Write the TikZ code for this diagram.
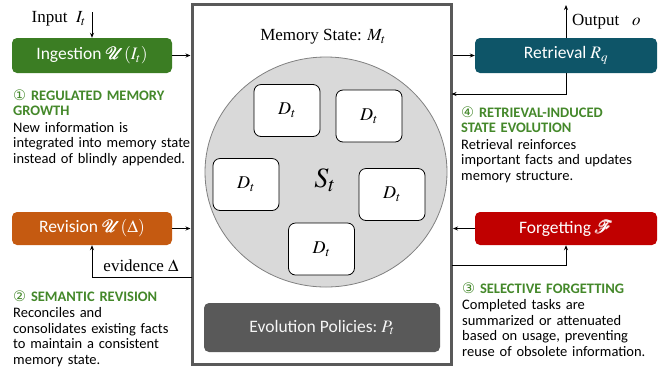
\documentclass[tikz,border=0pt]{standalone}
\usepackage{amsmath,amssymb}
\usepackage{mathptmx}
\usepackage{fontspec}
\setmainfont{Liberation Serif}
\newfontfamily\sansf{Carlito}
\newfontfamily\symf{DejaVu Sans}
\usetikzlibrary{arrows.meta,shapes.geometric}

\definecolor{ingreen}{HTML}{3B7D23}
\definecolor{revorange}{HTML}{C55A11}
\definecolor{retteal}{HTML}{0E5568}
\definecolor{forgred}{HTML}{C00000}
\definecolor{headgreen}{HTML}{44882A}
\definecolor{boxgray}{HTML}{595959}

\tikzset{
  procbox/.style={rounded corners=5pt, minimum width=160pt, minimum height=35pt,
    text=white, font=\sansf\fontsize{17.5}{20}\selectfont},
  docbox/.style={draw, line width=0.8pt, rounded corners=7pt, fill=white,
    minimum width=66pt, minimum height=52pt, font=\fontsize{18}{20}\selectfont},
  flow/.style={-{Stealth[length=5pt,width=4pt]}, line width=1pt},
  note/.style={anchor=base west, inner sep=0pt, text width=200pt, align=left,
    font=\sansf\fontsize{14.5}{15.5}\selectfont},
  lbl/.style={inner sep=0pt, font=\fontsize{17}{20}\selectfont}
}

\begin{document}
\begin{tikzpicture}[x=1pt,y=-1pt]
  \useasboundingbox (0,0) rectangle (660,368);
  % Memory state
  \node[draw=boxgray, line width=3pt, minimum width=259.5pt, minimum height=360pt] (mem) at (321.75,184.5) {};
  \node[lbl] (title) at (323,37) {Memory State: $M_t$};
  \node[ellipse, draw=gray, fill=black!15, line width=0.8pt, minimum width=242pt, minimum height=230pt] (pool) at (326,172) {};
  \node[inner sep=0pt, font=\fontsize{28}{30}\selectfont] (st) at (325,180) {$S_t$};
  \foreach \x/\y [count=\i] in {287/110.5, 369/116, 246/184.5, 392/194.5, 321.5/249}
    \node[docbox] (d\i) at (\x,\y) {$D_t$};
  \node[procbox, fill=boxgray, text=black!4, minimum width=236pt, minimum height=49pt] (pol) at (322,327.5) {Evolution Policies:~$P_t$};
  % Left side
  \node[procbox, fill=ingreen] (ing) at (92,55.5) {Ingestion $\pmb{\mathcal{U}}(I_t)$};
  \node[procbox, fill=revorange, minimum height=33pt] (rev) at (92,228.5) {Revision $\pmb{\mathcal{U}}(\Delta)$};
  \coordinate (in) at (92,12);
  \node[lbl, anchor=east] (inlbl) at (86,19) {Input\ \ $I_t$};
  \draw[flow] (in) -- (ing.north);
  \draw[flow] (ing.east) -- (ing.east -| mem.west);
  \draw[flow] (rev.east) -- (rev.east -| mem.west);
  \coordinate (evout) at (192,277);
  \draw[flow] (evout) -| (rev.south);
  \node[lbl] (evlbl) at (141,266) {evidence $\Delta$};
  % Right side
  \node[procbox, fill=retteal, minimum width=182pt] (ret) at (566,55.5) {Retrieval $R_q$};
  \node[procbox, fill=forgred, minimum width=182pt, minimum height=33pt] (forg) at (566,228.5) {Forgetting $\pmb{\mathcal{F}}$};
  \coordinate (out) at (566,5);
  \draw[flow] (ret.north) -- (out);
  \node[lbl, anchor=west] (outlbl) at (572,22) {Output\ \ \ $o$};
  \draw[flow] (mem.east |- ret.west) -- (ret.west);
  \coordinate (retin) at (451.5,94);
  \draw[flow] (ret.south) |- (retin);
  \draw[flow] (forg.west) -- (forg.west -| mem.east);
  \coordinate (fgout) at (451.5,265);
  \draw[flow] (fgout) -| (forg.south);
  % Notes
  \node[note] (n1) at (13,100) {{\color{headgreen}\bfseries{\symf\mdseries ①} REGULATED MEMORY GROWTH}\\[1pt]
    New information is\\ integrated into memory state\\ instead of blindly appended.};
  \node[note] (n2) at (13,301) {{\color{headgreen}\bfseries{\symf\mdseries ②} SEMANTIC REVISION}\\[1pt]
    Reconciles and\\ consolidates existing facts\\ to maintain a consistent\\ memory state.};
  \node[note] (n3) at (462,293) {{\color{headgreen}\bfseries{\symf\mdseries ③} SELECTIVE FORGETTING}\\[1pt]
    Completed tasks are\\ summarized or attenuated\\ based on usage, preventing\\ reuse of obsolete information.};
  \node[note] (n4) at (461,117) {{\color{headgreen}\bfseries{\symf\mdseries ④} RETRIEVAL-INDUCED\\ STATE EVOLUTION}\\[1pt]
    Retrieval reinforces\\ important facts and updates\\ memory structure.};
\end{tikzpicture}
\end{document}
